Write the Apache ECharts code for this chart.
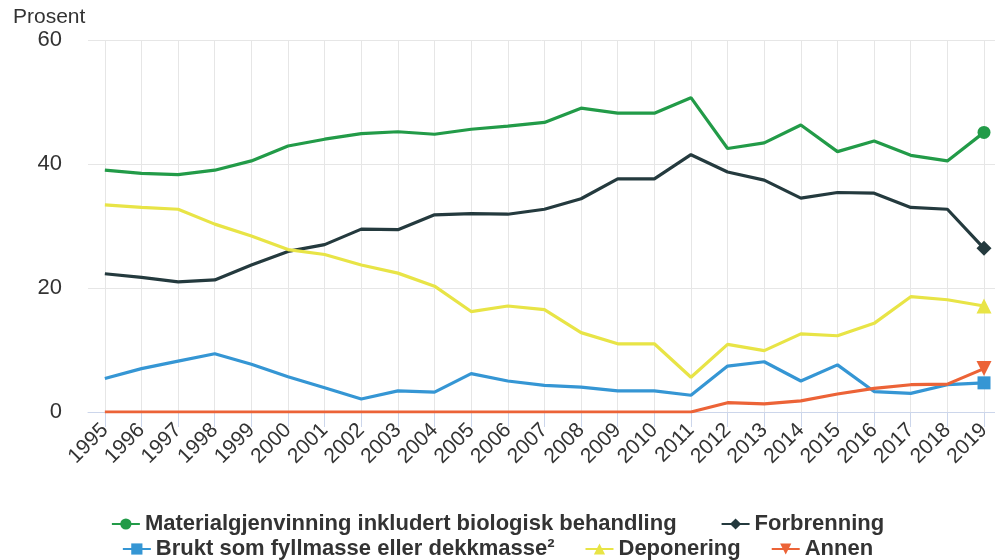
<!DOCTYPE html>
<html>
<head>
<meta charset="utf-8">
<script src="https://cdn.jsdelivr.net/npm/echarts@6/dist/echarts.min.js"></script>
<style>
  html, body { margin: 0; padding: 0; background: #fff; }
  #main { width: 995px; height: 560px; }
</style>
</head>
<body>
<div id="main"></div>
<script>
var years = [1995, 1996, 1997, 1998, 1999, 2000, 2001, 2002, 2003, 2004, 2005, 2006, 2007,
	2008, 2009, 2010, 2011, 2012, 2013, 2014, 2015, 2016, 2017, 2018, 2019];
var yTicks = [0, 20, 40, 60];

var material = [39.0, 38.5, 38.3, 39.0, 40.5, 42.9, 44.0, 44.9, 45.2, 44.8, 45.6, 46.1, 46.7,
	49.0, 48.2, 48.2, 50.7, 42.5, 43.4, 46.3, 42.0, 43.7, 41.4, 40.5, 45.1];
var forbrenning = [22.3, 21.7, 21.0, 21.3, 23.7, 25.9, 27.0, 29.5, 29.4, 31.8, 32.0, 31.9, 32.7,
	34.4, 37.6, 37.6, 41.5, 38.7, 37.4, 34.5, 35.4, 35.3, 33.0, 32.7, 26.4];
var brukt = [5.4, 7.0, 8.2, 9.4, 7.7, 5.7, 3.9, 2.1, 3.4, 3.2, 6.2, 5.0, 4.3,
	4.0, 3.4, 3.4, 2.7, 7.4, 8.1, 5.0, 7.6, 3.3, 3.0, 4.4, 4.7];
var deponering = [33.4, 33.0, 32.7, 30.3, 28.4, 26.2, 25.4, 23.7, 22.4, 20.3, 16.2, 17.1, 16.5,
	12.8, 11.0, 11.0, 5.6, 10.9, 9.9, 12.6, 12.3, 14.3, 18.6, 18.1, 17.1];
var annen = [0, 0, 0, 0, 0, 0, 0, 0, 0, 0, 0, 0, 0,
	0, 0, 0, 0, 1.5, 1.3, 1.8, 2.9, 3.8, 4.4, 4.5, 7.0];

var names = [
	'Materialgjenvinning inkludert biologisk behandling',
	'Forbrenning',
	'Brukt som fyllmasse eller dekkmasse²',
	'Deponering',
	'Annen'
];

var FONT = 'Liberation Sans, Arial, sans-serif';

function makeSeries(name, values, color, symbol, size, rotate) {
	var last = values.length - 1;
	return {
		name: name,
		type: 'line',
		data: values.map(function (v, i) { return [years[i], v]; }),
		symbol: symbol,
		symbolRotate: rotate || 0,
		symbolSize: function (val, p) { return p.dataIndex === last ? size : 0; },
		showSymbol: true,
		showAllSymbol: true,
		lineStyle: { color: color, width: 3.2 },
		itemStyle: { color: color },
		emphasis: { disabled: true }
	};
}

var legendText = { fontFamily: FONT, fontSize: 22, fontWeight: 'bold', color: '#333' };

var myChart = echarts.init(document.getElementById('main'));
var option = {
	animation: false,
	title: {
		text: 'Prosent',
		left: 8,
		top: 2,
		textStyle: { fontFamily: FONT, fontSize: 21, fontWeight: 'normal', color: '#333' }
	},
	legend: [{
		data: [names[0], names[1]],
		left: 'center',
		top: 513,
		padding: 0,
		itemGap: 44,
		itemWidth: 28,
		itemHeight: 14,
		textStyle: legendText
	}, {
		data: [names[2], names[3], names[4]],
		left: 'center',
		top: 538,
		padding: 0,
		itemGap: 30,
		itemWidth: 28,
		itemHeight: 14,
		textStyle: legendText
	}],
	grid: { left: 88, right: 0, top: 40, bottom: 148 },
	xAxis: {
		type: 'value',
		min: 1994.54,
		max: 2019.3,
		axisLine: { show: true, lineStyle: { color: '#ccd6eb', width: 1 } },
		axisTick: { show: true, customValues: years, length: 15, lineStyle: { color: '#ccd6eb' } },
		axisLabel: {
			customValues: years,
			rotate: 45,
			margin: 15,
			fontFamily: FONT,
			fontSize: 21,
			color: '#333',
			formatter: function (v) { return String(v); }
		},
		splitLine: { show: true, lineStyle: { color: '#e6e6e6', width: 1 } }
	},
	yAxis: {
		type: 'value',
		min: yTicks[0],
		max: yTicks[yTicks.length - 1],
		interval: 20,
		axisLine: { show: false },
		axisTick: { show: false },
		axisLabel: { margin: 26, fontFamily: FONT, fontSize: 22, color: '#333' },
		splitLine: { lineStyle: { color: '#e6e6e6', width: 1 } }
	},
	series: [
		makeSeries(names[0], material, '#229b48', 'circle', 13),
		makeSeries(names[1], forbrenning, '#243a3e', 'diamond', 15),
		makeSeries(names[2], brukt, '#3596d4', 'rect', 13),
		makeSeries(names[3], deponering, '#e8e446', 'triangle', 15),
		makeSeries(names[4], annen, '#ec6337', 'triangle', 15, 180)
	]
};
myChart.setOption(option);
</script>
</body>
</html>
